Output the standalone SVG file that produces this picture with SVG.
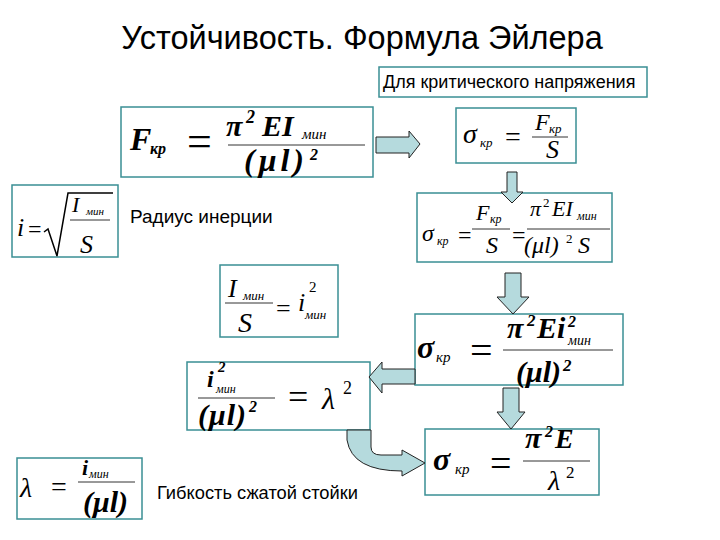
<svg xmlns="http://www.w3.org/2000/svg" width="720" height="540" viewBox="0 0 720 540">
<style>
.box{fill:#fff;stroke:#3a8f94;stroke-width:1.5}
.arr{fill:#b5dadd;stroke:#222;stroke-width:1}
.lbl{font-family:"Liberation Sans",Arial,sans-serif;fill:#000}
.m{font-family:"Liberation Serif","Times New Roman",serif;font-style:italic;fill:#000}
.mb{font-family:"Liberation Serif","Times New Roman",serif;font-style:italic;font-weight:bold;fill:#000}
.n{font-family:"Liberation Serif","Times New Roman",serif;fill:#000}
.fl{stroke:#333;stroke-width:1}
</style>
<rect width="720" height="540" fill="#fff"/>
<text class="lbl" x="362" y="49" font-size="32.5" text-anchor="middle">Устойчивость. Формула Эйлера</text>

<g id="note-critical">
<rect class="box" x="379" y="67" width="268" height="30"/>
<text class="lbl" x="383" y="88" font-size="18">Для критического напряжения</text>
</g>

<g id="euler-force">
<rect class="box" x="121" y="107" width="252" height="70"/>
<text class="mb" x="130" y="150" font-size="32">F</text>
<text class="mb" x="150" y="154" font-size="16">кр</text>
<text class="n" x="187" y="156" font-size="44">=</text>
<text class="mb" x="226" y="136" font-size="30">π</text>
<text class="mb" x="246" y="123" font-size="18">2</text>
<text class="mb" x="262" y="136" font-size="30">EI</text>
<text class="m" x="302" y="139" font-size="15">мин</text>
<line class="fl" x1="228" y1="145" x2="365" y2="145"/>
<text class="mb" x="244" y="171" font-size="32" letter-spacing="4">(μl)</text>
<text class="mb" x="310" y="160" font-size="16">2</text>
</g>

<g id="sigma-def">
<rect class="box" x="456" y="108" width="120" height="55"/>
<text class="m" x="463" y="143" font-size="28">σ</text>
<text class="m" x="480" y="147" font-size="13">кр</text>
<text class="n" x="505" y="146" font-size="28">=</text>
<text class="m" x="535" y="130" font-size="24">F</text>
<text class="m" x="549" y="133" font-size="13">кр</text>
<line class="fl" x1="532" y1="137" x2="568" y2="137"/>
<text class="m" x="546" y="158" font-size="26">S</text>
</g>

<g id="sigma-full">
<rect class="box" x="417" y="193" width="195" height="69"/>
<text class="m" x="422" y="241" font-size="24">σ</text>
<text class="m" x="437" y="245" font-size="12">кр</text>
<text class="n" x="458" y="243" font-size="24">=</text>
<text class="m" x="476" y="220" font-size="22">F</text>
<text class="m" x="490" y="223" font-size="12">кр</text>
<line class="fl" x1="472" y1="229" x2="510" y2="229"/>
<text class="m" x="486" y="253" font-size="24">S</text>
<text class="n" x="512" y="243" font-size="24">=</text>
<text class="m" x="530" y="216" font-size="22">π</text>
<text class="n" x="543" y="207" font-size="13">2</text>
<text class="m" x="552" y="216" font-size="22">EI</text>
<text class="m" x="577" y="220" font-size="12">мин</text>
<line class="fl" x1="527" y1="229" x2="610" y2="229"/>
<text class="m" x="524" y="253" font-size="24">(μl)</text>
<text class="n" x="566" y="243" font-size="13">2</text>
<text class="m" x="578" y="253" font-size="24">S</text>
</g>

<g id="radius">
<rect class="box" x="12" y="185" width="106" height="72"/>
<text class="m" x="17" y="236" font-size="26">i</text>
<text class="n" x="28" y="237" font-size="24">=</text>
<path d="M44,232 L48,229 L57,256 L68,193 L113,193" fill="none" stroke="#000" stroke-width="1.5"/>
<text class="m" x="72" y="212" font-size="22">I</text>
<text class="m" x="86" y="215" font-size="11">мин</text>
<line class="fl" x1="70" y1="220" x2="110" y2="220"/>
<text class="m" x="80" y="253" font-size="26">S</text>
<text class="lbl" x="130" y="223" font-size="19">Радиус инерции</text>
</g>

<g id="i-square">
<rect class="box" x="220" y="265" width="118" height="72"/>
<text class="m" x="228" y="297" font-size="26">I</text>
<text class="m" x="243" y="300" font-size="13">мин</text>
<line class="fl" x1="225" y1="303" x2="273" y2="303"/>
<text class="m" x="238" y="332" font-size="28">S</text>
<text class="n" x="276" y="317" font-size="26">=</text>
<text class="m" x="298" y="311" font-size="26">i</text>
<text class="n" x="309" y="292" font-size="15">2</text>
<text class="m" x="305" y="319" font-size="13">мин</text>
</g>

<g id="sigma-i">
<rect class="box" x="415" y="314" width="208" height="71"/>
<text class="mb" x="417" y="358" font-size="32">σ</text>
<text class="m" x="436" y="362" font-size="15">кр</text>
<text class="n" x="470" y="364" font-size="40">=</text>
<text class="mb" x="507" y="338" font-size="30">π</text>
<text class="mb" x="527" y="326" font-size="17">2</text>
<text class="mb" x="537" y="338" font-size="30">Ei</text>
<text class="mb" x="568" y="327" font-size="16">2</text>
<text class="m" x="568" y="345" font-size="14">мин</text>
<line class="fl" x1="503" y1="350" x2="613" y2="350"/>
<text class="mb" x="516" y="382" font-size="30">(μl)</text>
<text class="mb" x="563" y="371" font-size="17">2</text>
</g>

<g id="lambda-square">
<rect class="box" x="187" y="362" width="183" height="68"/>
<text class="mb" x="207" y="387" font-size="24">i</text>
<text class="mb" x="218" y="372" font-size="15">2</text>
<text class="m" x="216" y="393" font-size="12">мин</text>
<line class="fl" x1="198" y1="398" x2="275" y2="398"/>
<text class="mb" x="198" y="425" font-size="30" letter-spacing="1">(μl)</text>
<text class="mb" x="249" y="412" font-size="16">2</text>
<text class="n" x="288" y="409" font-size="36">=</text>
<text class="m" x="322" y="409" font-size="30">λ</text>
<text class="n" x="343" y="394" font-size="18">2</text>
</g>

<g id="sigma-lambda">
<rect class="box" x="425" y="429" width="174" height="66"/>
<text class="mb" x="433" y="470" font-size="32">σ</text>
<text class="m" x="455" y="474" font-size="15">кр</text>
<text class="n" x="490" y="476" font-size="38">=</text>
<text class="mb" x="525" y="448" font-size="30">π</text>
<text class="mb" x="545" y="437" font-size="16">2</text>
<text class="mb" x="555" y="448" font-size="28">E</text>
<line class="fl" x1="523" y1="461" x2="590" y2="461"/>
<text class="m" x="548" y="490" font-size="28">λ</text>
<text class="n" x="566" y="478" font-size="17">2</text>
</g>

<g id="slenderness">
<rect class="box" x="17" y="458" width="125" height="61"/>
<text class="m" x="20" y="497" font-size="28">λ</text>
<text class="n" x="51" y="496" font-size="28">=</text>
<text class="mb" x="82" y="475" font-size="22">i</text>
<text class="m" x="89" y="478" font-size="12">мин</text>
<line class="fl" x1="78" y1="482" x2="135" y2="482"/>
<text class="mb" x="83" y="512" font-size="30">(μl)</text>
<text class="lbl" x="157" y="499" font-size="18.3">Гибкость сжатой стойки</text>
</g>

<g id="connectors">
<path class="arr" d="M376,137 L409,137 L409,131 L420,144 L409,158 L409,153 L376,153 Z"/>
<path class="arr" d="M507,172 L517,172 L517,192 L523,192 L512,203 L501,192 L507,192 Z"/>
<path class="arr" d="M505,273 L521,273 L521,297 L529,297 L513,314 L497,297 L505,297 Z"/>
<path class="arr" d="M415,369 L382,369 L382,362 L369,377 L382,393 L382,384 L415,384 Z"/>
<path class="arr" d="M503,388 L519,388 L519,412 L525,412 L511,429 L497,412 L503,412 Z"/>
<path class="arr" d="M347,430 L371,430 L371,447 Q371,455 381,455 L402,455 L402,450 L425,463 L402,476 L402,471 Q352,471 347,440 Z"/>
</g>
</svg>
